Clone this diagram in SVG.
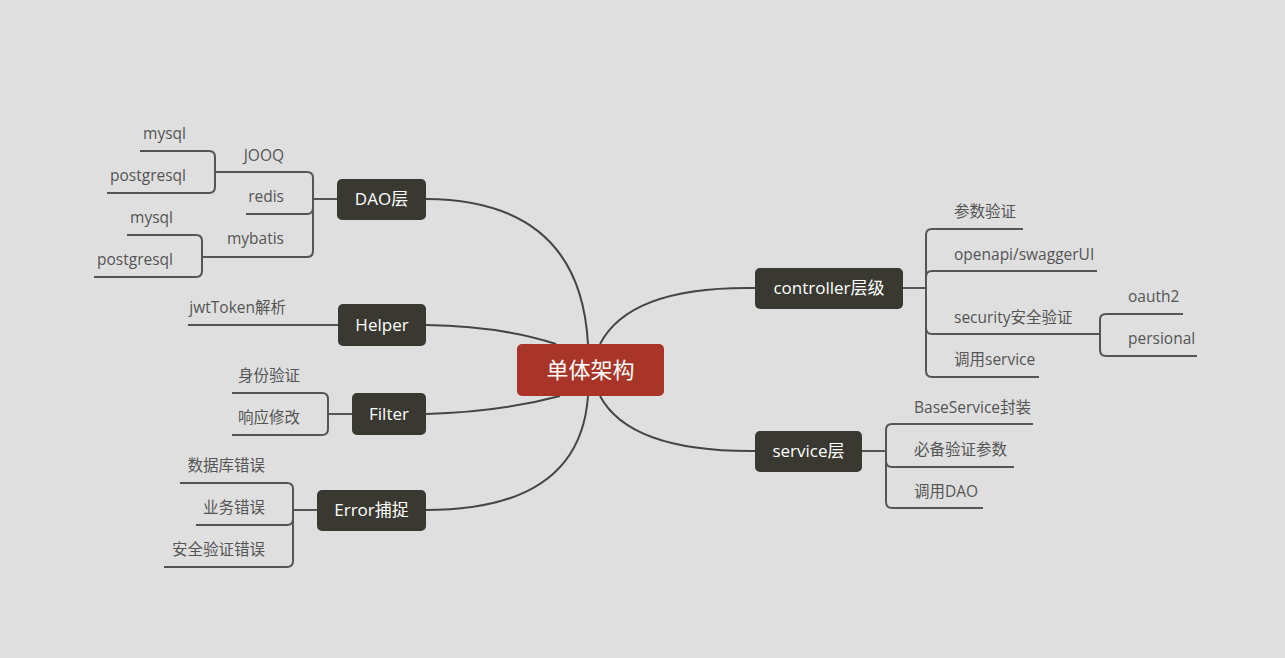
<svg xmlns="http://www.w3.org/2000/svg" width="1285" height="658" viewBox="0 0 1285 658">
<style>
.bg{fill:#dfdfdf}
.node rect{fill:#393932}
.node text{fill:#ffffff;font-family:"Open Sans","Noto Sans CJK SC",sans-serif;font-size:17px;text-anchor:middle}
.root rect{fill:#a83527}
.root text{fill:#ffffff;font-family:"Open Sans","Noto Sans CJK SC",sans-serif;font-size:22px;text-anchor:middle}
.main{fill:none;stroke:#454545;stroke-width:2}
.sub{fill:none;stroke:#555555;stroke-width:2}
.lbl{fill:#555555;font-family:"Open Sans","Noto Sans CJK SC",sans-serif;font-size:15.5px}
.l{text-anchor:end}
.r{text-anchor:start}
</style>
<rect class="bg" x="0" y="0" width="1285" height="658"/>
<g id="connectors">
<path class="main" d="M426,199 Q580,200 588,344"/>
<path class="main" d="M426,325 Q500,326 556,344"/>
<path class="main" d="M426,414 Q500,412 560,396"/>
<path class="main" d="M426,510 Q580,510 588,396"/>
<path class="main" d="M755,288 Q630,286 600,344"/>
<path class="main" d="M755,451 Q630,452 600,396"/>
<path class="sub" d="M337,199 H313"/>
<path class="sub" d="M313,199 V178 Q313,172 307,172 H215"/>
<path class="sub" d="M313,199 V208 Q313,214 307,214 H246"/>
<path class="sub" d="M313,199 V251 Q313,257 307,257 H202"/>
<path class="sub" d="M215,172 V157 Q215,151 209,151 H140"/>
<path class="sub" d="M215,172 V187 Q215,193 209,193 H107"/>
<path class="sub" d="M202,257 V241 Q202,235 196,235 H127"/>
<path class="sub" d="M202,257 V271 Q202,277 196,277 H94"/>
<path class="sub" d="M338,325 H188"/>
<path class="sub" d="M352,414 H328"/>
<path class="sub" d="M328,414 V399 Q328,393 322,393 H232"/>
<path class="sub" d="M328,414 V429 Q328,435 322,435 H232"/>
<path class="sub" d="M317,510 H293"/>
<path class="sub" d="M293,510 V489 Q293,483 287,483 H180"/>
<path class="sub" d="M293,510 V519 Q293,525 287,525 H196"/>
<path class="sub" d="M293,510 V561 Q293,567 287,567 H164"/>
<path class="sub" d="M903,288 H926"/>
<path class="sub" d="M926,288 V235 Q926,229 932,229 H1023"/>
<path class="sub" d="M926,288 V277 Q926,271 932,271 H1097"/>
<path class="sub" d="M926,288 V328 Q926,334 932,334 H1100"/>
<path class="sub" d="M926,288 V371 Q926,377 932,377 H1039"/>
<path class="sub" d="M1100,334 V320 Q1100,314 1106,314 H1183"/>
<path class="sub" d="M1100,334 V350 Q1100,356 1106,356 H1197"/>
<path class="sub" d="M862,451 H886"/>
<path class="sub" d="M886,451 V430 Q886,424 892,424 H1033"/>
<path class="sub" d="M886,451 V461 Q886,467 892,467 H1014"/>
<path class="sub" d="M886,451 V502 Q886,508 892,508 H983"/>
</g>
<g id="root" class="root"><rect x="517" y="344" width="147" height="52" rx="5"/><text x="590.5" y="378">单体架构</text></g>
<g id="dao" class="node"><rect x="337" y="179" width="89" height="41" rx="5"/><text x="381.5" y="205">DAO层</text></g>
<g id="helper" class="node"><rect x="338" y="304" width="88" height="42" rx="5"/><text x="382" y="331">Helper</text></g>
<g id="filter" class="node"><rect x="352" y="393" width="74" height="42" rx="5"/><text x="389" y="420">Filter</text></g>
<g id="error" class="node"><rect x="317" y="490" width="109" height="41" rx="5"/><text x="371.5" y="516">Error捕捉</text></g>
<g id="controller" class="node"><rect x="755" y="268" width="148" height="41" rx="5"/><text x="829" y="294">controller层级</text></g>
<g id="service" class="node"><rect x="755" y="431" width="107" height="41" rx="5"/><text x="808.5" y="457">service层</text></g>
<g id="dao-children">
<text class="lbl l" x="284" y="161">JOOQ</text>
<text class="lbl l" x="284" y="202">redis</text>
<text class="lbl l" x="284" y="244">mybatis</text>
<text class="lbl l" x="186" y="139">mysql</text>
<text class="lbl l" x="186" y="181">postgresql</text>
<text class="lbl l" x="173" y="223">mysql</text>
<text class="lbl l" x="173" y="265">postgresql</text>
</g>
<g id="helper-children"><text class="lbl l" x="286" y="313">jwtToken解析</text></g>
<g id="filter-children">
<text class="lbl l" x="300" y="381">身份验证</text>
<text class="lbl l" x="300" y="423">响应修改</text>
</g>
<g id="error-children">
<text class="lbl l" x="265" y="471">数据库错误</text>
<text class="lbl l" x="265" y="513">业务错误</text>
<text class="lbl l" x="265" y="555">安全验证错误</text>
</g>
<g id="controller-children">
<text class="lbl r" x="954" y="217">参数验证</text>
<text class="lbl r" x="954" y="260">openapi/swaggerUI</text>
<text class="lbl r" x="954" y="323">security安全验证</text>
<text class="lbl r" x="954" y="365">调用service</text>
<text class="lbl r" x="1128" y="302">oauth2</text>
<text class="lbl r" x="1128" y="344">persional</text>
</g>
<g id="service-children">
<text class="lbl r" x="914" y="413">BaseService封装</text>
<text class="lbl r" x="914" y="455">必备验证参数</text>
<text class="lbl r" x="914" y="497">调用DAO</text>
</g>
</svg>
